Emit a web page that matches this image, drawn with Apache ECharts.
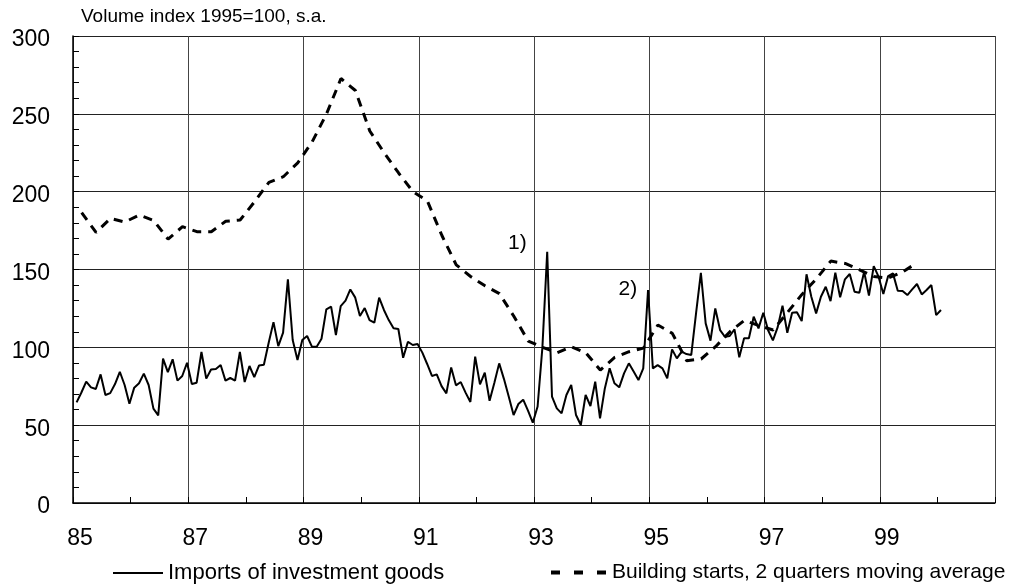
<!DOCTYPE html>
<html><head><meta charset="utf-8">
<script src="https://cdn.jsdelivr.net/npm/echarts@6/dist/echarts.min.js"></script>
<style>html,body{margin:0;padding:0;background:#fff}#c{width:1032px;height:585px}</style>
</head><body><div id="c"></div>
<script>
// Imports of investment goods, monthly from Jan 1985 to Jan 2000
const importsStartYear = 85;
const importsValues = [
  64.6, 71, 78, 74.3, 73.2, 82.6, 69.4, 70.6, 76.4, 84.3, 75.8, 63.8,
  74.1, 76.9, 83.1, 75.8, 60.6, 56.3, 92.7, 84.1, 92.3, 78.6, 81.6, 90.1,
  76.4, 77.3, 97.0, 79.9, 85.8, 86.1, 88.6, 78.6, 80.3, 78.6, 97.0, 77.7,
  88.0, 80.9, 88.4, 88.8, 103.0, 116.2, 100.8, 109.4, 143.7, 104.7, 91.8, 104.7,
  107.3, 100.4, 100.4, 105.5, 124.4, 126.1, 107.9, 126.5, 130.0, 137.2, 132.1, 120.1,
  125.2, 117.5, 115.8, 131.9, 124.0, 117.5, 112.2, 111.8, 93.3, 103.6, 101.5, 102.1,
  96.6, 89.3, 81.6, 82.6, 75.1, 70.4, 87.1, 75.6, 77.7, 70.9, 64.9, 94.0,
  76.2, 83.7, 65.7, 77.3, 89.7, 79.6, 68.3, 56.5, 63.6, 66.4, 59.3, 51.6,
  62, 100, 161.4, 68.3, 60.8, 57.6, 69.4, 75.8, 56.5, 50.1, 69.4, 62.3,
  77.9, 54.4, 73.6, 86.5, 76.9, 74.3, 83.3, 89.7, 84.4, 79.0, 86.5, 136.8,
  86.5, 88.6, 86.5, 80.1, 98.7, 92.9, 97.2, 95.7, 95.1, 122, 147.9, 115.4,
  104.3, 125.0, 111.1, 106.8, 107.3, 111.5, 93.6, 105.8, 105.8, 119.7, 112.2, 122.2,
  111, 104.5, 113, 126.7, 109.4, 122.2, 122.5, 116.9, 146.9, 132.5, 121.8, 132.5,
  138.9, 129.7, 147.9, 132.1, 143.7, 147.1, 135.7, 135.1, 148.6, 133.2, 152.2, 145.4,
  134.2, 145.8, 147.5, 136.4, 136.2, 133.6, 137.2, 140.7, 134.0, 136.8, 140.0, 120.7,
  124.0
];
// Building starts, 2 quarters moving average (quarterly)
const buildingYears = [
  85.15, 85.40, 85.65, 85.90, 86.15, 86.40, 86.65, 86.90, 87.15, 87.40, 87.65, 87.90,
  88.15, 88.40, 88.65, 88.90, 89.15, 89.40, 89.65, 89.90, 90.15, 90.40, 90.65, 90.90,
  91.15, 91.40, 91.65, 91.90, 92.15, 92.40, 92.65, 92.90, 93.15, 93.40, 93.65, 93.90,
  94.15, 94.40, 94.65, 94.90, 95.15, 95.40, 95.65, 95.90, 96.15, 96.40, 96.65, 96.90,
  97.15, 97.40, 97.65, 97.90, 98.15, 98.40, 98.65, 98.90, 99.15, 99.40, 99.65
];
const buildingValues = [
  186.5, 173.8, 182.8, 180.5, 185, 181.5, 169.5, 177.5, 174.3, 174.3, 181, 181.8,
  193.5, 206, 209.6, 218.5, 232, 250, 272.7, 265, 239, 225, 212, 200,
  194, 172, 153, 145.5, 139.5, 134.5, 120, 104, 100, 96.5, 100.4, 96.5,
  85.4, 93.5, 97.2, 99.5, 114.3, 109, 91.4, 92.5, 100.4, 110, 117.3, 114,
  111.1, 122.5, 134, 144, 155.4, 153.9, 149.8, 145.5, 144.5, 148.5, 154.4
];
const seriesNames = ['Imports of investment goods', 'Building starts, 2 quarters moving average'];
const titleText = 'Volume index 1995=100, s.a.';
const annotations = [
  { text: '1)', year: 92.71, value: 166.7 },
  { text: '2)', year: 94.63, value: 137.1 }
];

const FONT = '"Liberation Sans", Arial, sans-serif';
const chart = echarts.init(document.getElementById('c'), null, { renderer: 'canvas' });
chart.setOption({
  animation: false,
  backgroundColor: '#fff',
  title: {
    text: titleText, left: 81, top: 7, padding: 0,
    textStyle: { fontFamily: FONT, fontSize: 19, fontWeight: 'normal', color: '#000' }
  },
  grid: { left: 73, right: 37, top: 36, bottom: 82, containLabel: false },
  xAxis: {
    type: 'value', min: 85, max: 101, interval: 2,
    axisLine: { lineStyle: { color: '#000', width: 1.5 } },
    axisTick: { show: true, inside: true, length: 6, lineStyle: { color: '#000' } },
    minorTick: { show: true, splitNumber: 2, length: 6, lineStyle: { color: '#000', width: 1 } },
    splitLine: { show: true, lineStyle: { color: '#444', width: 1 } },
    axisLabel: {
      formatter: v => (v > 99.5 ? '' : String(v)),
      fontFamily: FONT, fontSize: 23, color: '#000', margin: 24, padding: [0, 0, 0, 14]
    }
  },
  yAxis: {
    type: 'value', min: 0, max: 300, interval: 50,
    axisLine: { show: true, lineStyle: { color: '#000', width: 1.5 } },
    axisTick: { show: true, inside: true, length: 6, lineStyle: { color: '#000' } },
    minorTick: { show: true, splitNumber: 5, length: 6, lineStyle: { color: '#000', width: 1 } },
    splitLine: { show: true, lineStyle: { color: '#222', width: 1 } },
    axisLabel: { fontFamily: FONT, fontSize: 23, color: '#000', margin: 23,
                 verticalAlign: 'top', lineHeight: 8 }
  },
  legend: [
    {
      data: [seriesNames[0]], left: 107, top: 557, itemWidth: 50, itemHeight: 14,
      itemStyle: { opacity: 0 },
      lineStyle: { width: 2 },
      textStyle: { fontFamily: FONT, fontSize: 22, color: '#000' }
    },
    {
      data: [seriesNames[1]], left: 544, top: 557, itemWidth: 56, itemHeight: 14,
      itemStyle: { opacity: 0 },
      lineStyle: { width: 4, type: [9, 14] },
      textStyle: { fontFamily: FONT, fontSize: 21, color: '#000' }
    }
  ],
  series: [
    {
      name: seriesNames[0], type: 'line', symbol: 'none',
      data: importsValues.map((v, i) => [importsStartYear + (i + 0.75) / 12, v]),
      lineStyle: { color: '#000', width: 2 },
      itemStyle: { color: '#000' },
      z: 3,
      markPoint: {
        symbol: 'circle', symbolSize: 1,
        itemStyle: { color: 'rgba(0,0,0,0)' },
        label: { show: true, position: 'inside', fontFamily: FONT, fontSize: 21, color: '#000',
                 formatter: p => p.name },
        data: annotations.map(a => ({ name: a.text, coord: [a.year, a.value] }))
      }
    },
    {
      name: seriesNames[1], type: 'line', symbol: 'none',
      data: buildingYears.map((y, k) => [y, buildingValues[k]]),
      lineStyle: { color: '#000', width: 3, type: [9, 7] },
      itemStyle: { color: '#000' },
      z: 2
    }
  ]
});
</script></body></html>
